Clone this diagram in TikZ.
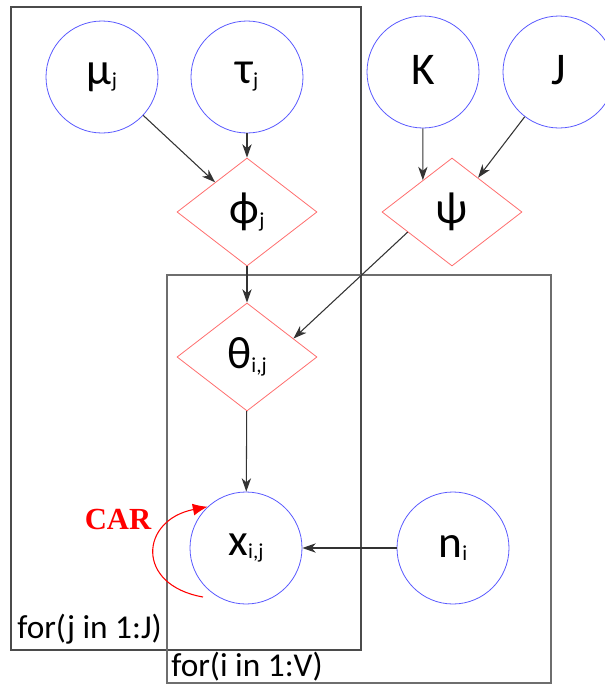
\documentclass[tikz,border=0pt]{standalone}
\usepackage{fontspec}
\setmainfont{Carlito}
\newfontfamily\carfont{Liberation Serif}
\usetikzlibrary{arrows.meta,shapes.geometric,calc}
\definecolor{circblue}{RGB}{90,90,255}
\definecolor{diared}{RGB}{255,110,110}
\definecolor{plateJ}{RGB}{75,75,75}
\definecolor{plateI}{RGB}{110,110,110}
\newcommand{\bigtxt}[2]{{\fontsize{34}{40}\selectfont #1}\raisebox{-0.6ex}{\fontsize{16}{18}\selectfont #2}}
\begin{document}
\begin{tikzpicture}[x=0.75pt,y=-0.75pt,
  var/.style={circle,draw=circblue,line width=0.6pt,minimum size=84pt,inner sep=0pt},
  det/.style={diamond,draw=diared,line width=0.6pt,minimum width=105pt,minimum height=81pt,inner sep=0pt},
  plate/.style={line width=1.1pt},
  arr/.style={-{Stealth[length=10pt,width=7pt,inset=3pt]},draw=black!80,line width=0.8pt},
  platelabel/.style={anchor=base west,font=\fontsize{25}{30}\selectfont,inner sep=0pt},
  car/.style={-{Latex[length=11pt,width=9pt]},draw=red,line width=0.8pt}]
\useasboundingbox (0,0) rectangle (605,687);
\draw[plate,draw=plateJ] (11,7) rectangle (361,650);
\draw[plate,draw=plateI] (167,275) rectangle (551,683);
\node[var] (mu) at (102,77) {\bigtxt{μ}{j}};
\node[var] (tau) at (247,77) {\bigtxt{τ}{j}};
\node[var] (K) at (423,72) {\bigtxt{K}{}};
\node[var] (J) at (559,72) {\bigtxt{J}{}};
\node[det] (phi) at (247,212) {\bigtxt{ϕ}{j}};
\node[det] (psi) at (452,212) {\bigtxt{ψ}{}};
\node[det] (theta) at (247,357) {\bigtxt{θ}{i,j}};
\node[var] (x) at (246,548) {\bigtxt{x}{i,j}};
\node[var] (n) at (453,548) {\bigtxt{n}{i}};
\draw[arr] (mu) -- (phi);
\draw[arr] (tau) -- (phi);
\coordinate (psiK) at ($(psi.west)!0.586!(psi.north)$);
\draw[arr] (K) -- (psiK);
\coordinate (psiJ) at ($(psi.north)!0.37!(psi.east)$);
\draw[arr] (J) -- (psiJ);
\coordinate (psiT) at ($(psi.west)!0.37!(psi.south)$);
\coordinate (thetaP) at ($(theta.north)!0.66!(theta.east)$);
\draw[arr] (psiT) -- (thetaP);
\draw[arr] (phi) -- (theta);
\draw[arr] (theta) -- (x);
\draw[arr] (n) -- (x);
\coordinate (carS) at (203,597);
\draw[car] (carS) .. controls (135,585) and (140,520) .. (x.133);
\node[text=red,font=\carfont\bfseries\fontsize{23}{28}\selectfont] (car) at (118,519) {CAR};
\node[platelabel] (lj) at (17,638) {for(j in 1:J)};
\node[platelabel] (li) at (171,676) {for(i in 1:V)};
\end{tikzpicture}
\end{document}
